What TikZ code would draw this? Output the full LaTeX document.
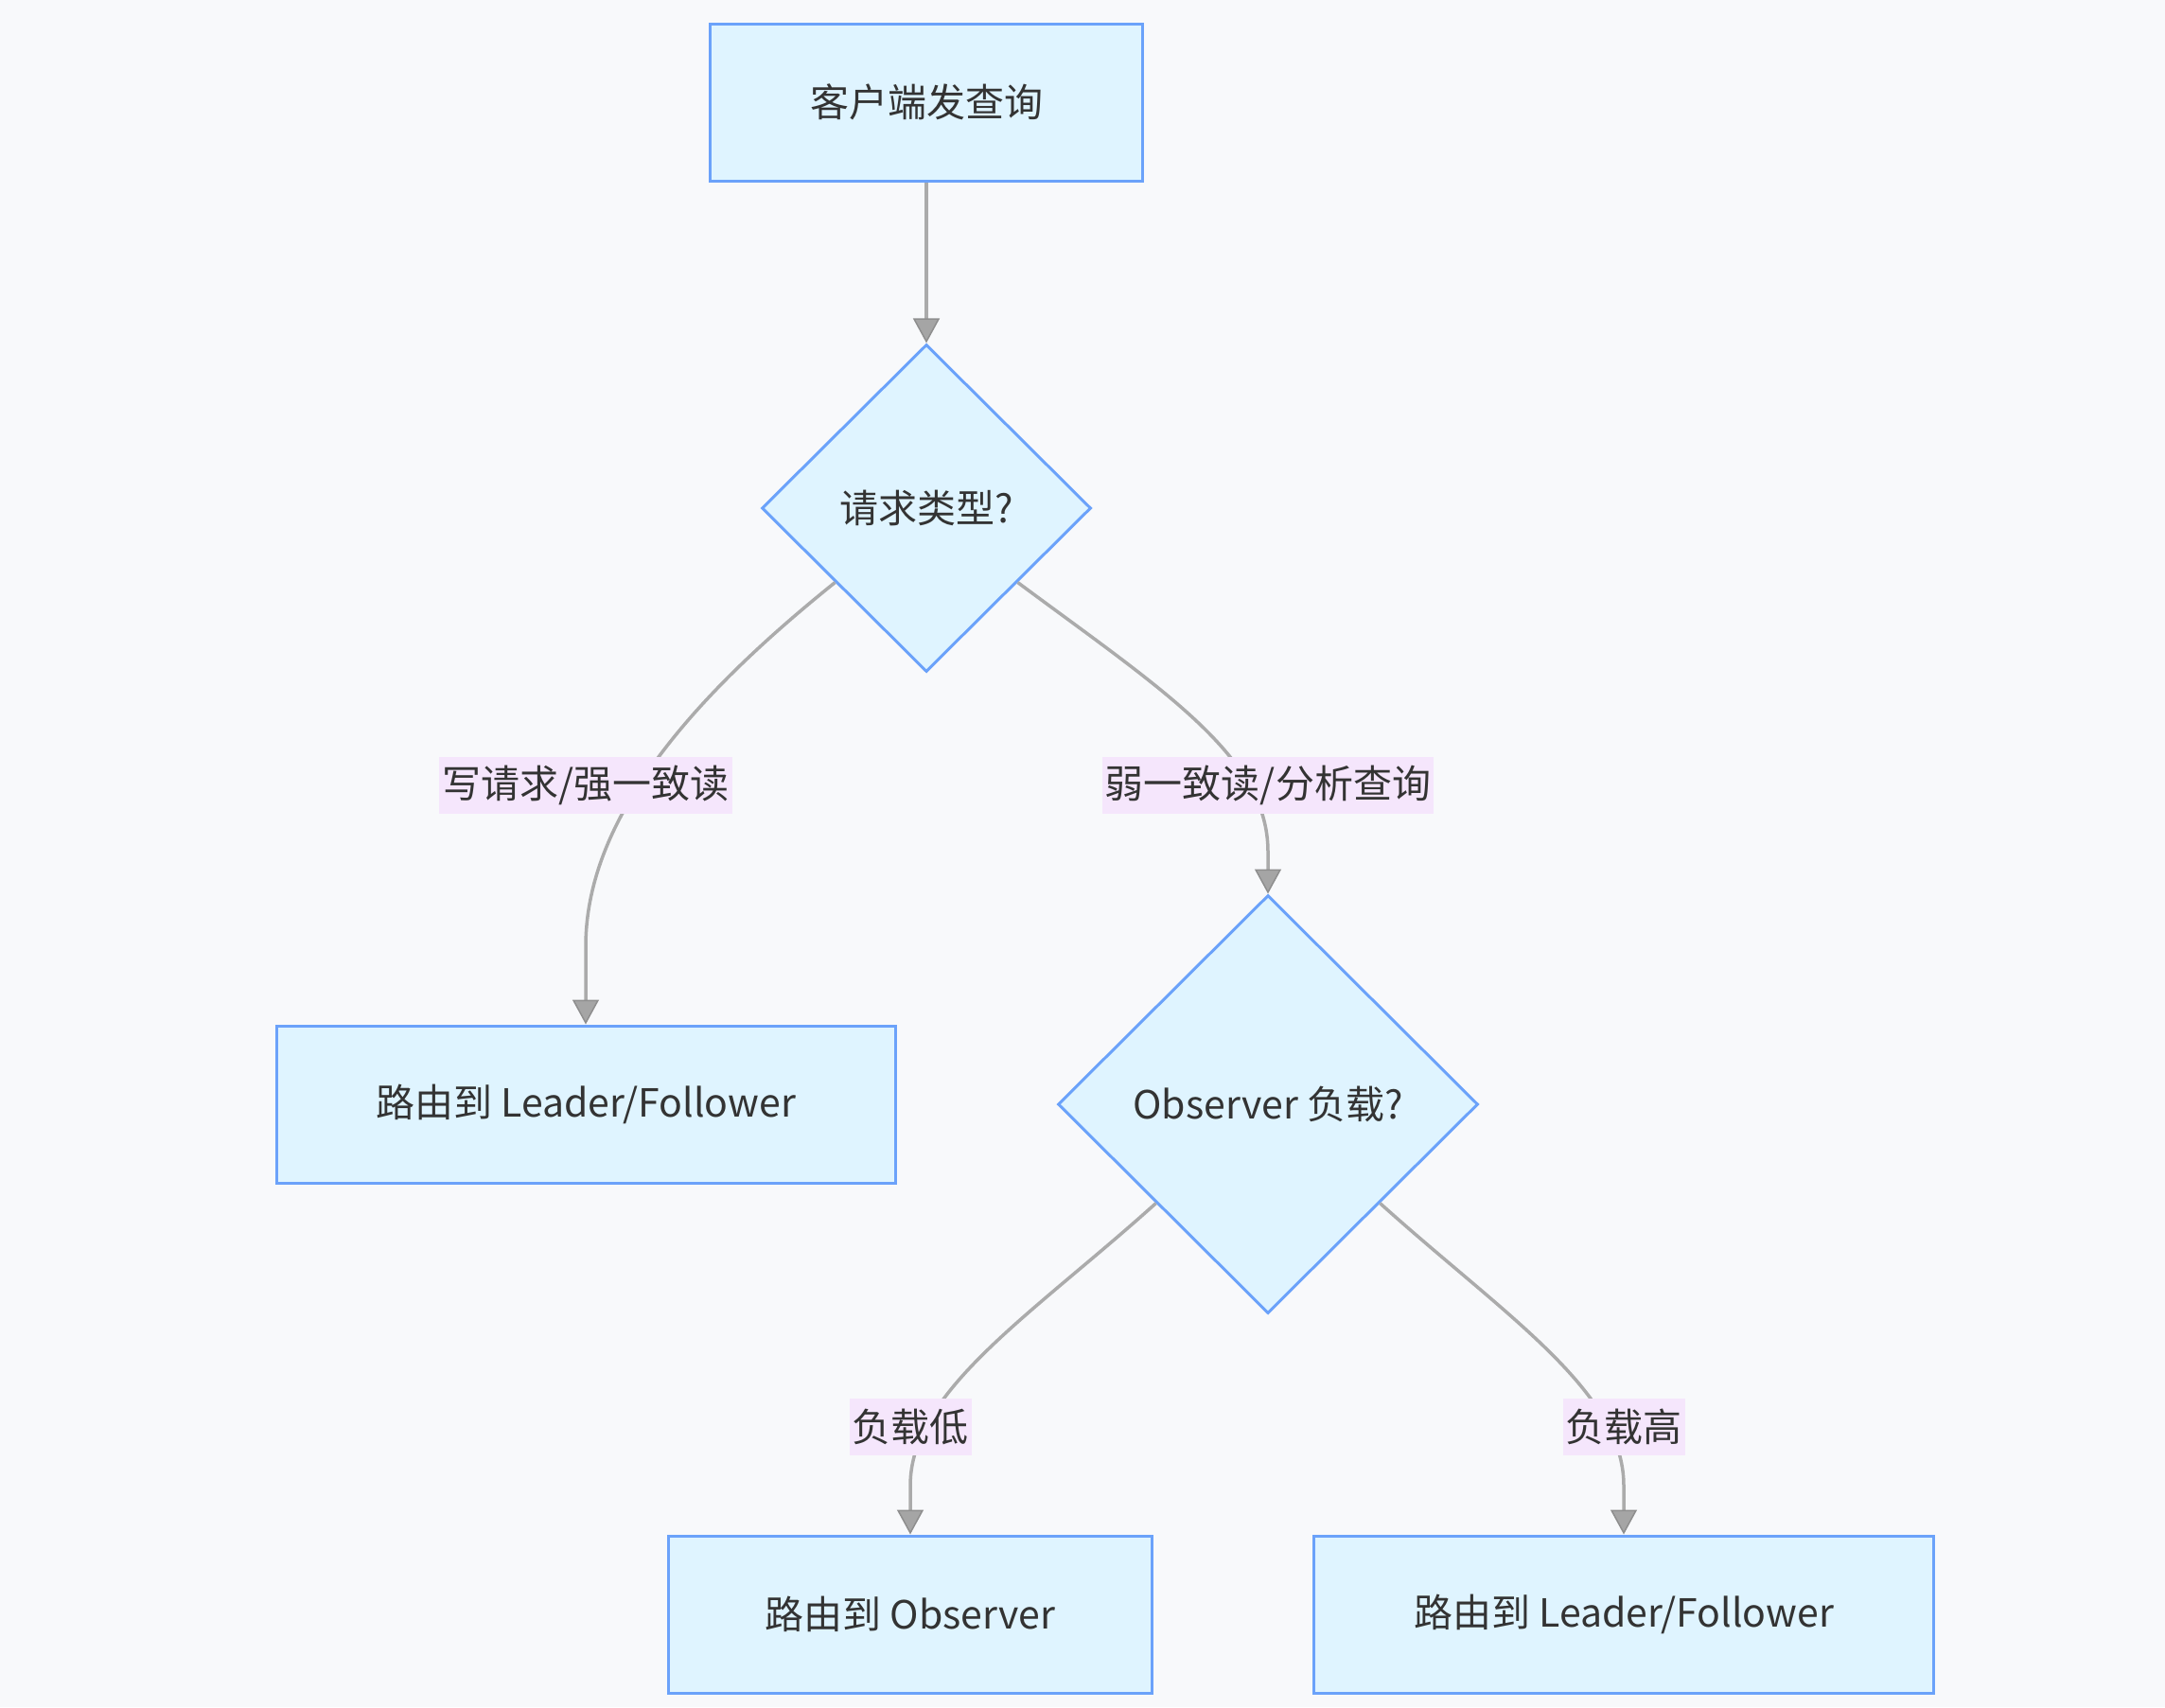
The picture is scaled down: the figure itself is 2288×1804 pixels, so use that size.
\documentclass[tikz,border=0pt]{standalone}
\usepackage{fontspec}
\setmainfont{Noto Sans CJK SC}
\usetikzlibrary{shapes.geometric,arrows.meta,calc}
\definecolor{bgcol}{HTML}{F8F9FB}
\definecolor{nodefill}{HTML}{DFF4FF}
\definecolor{nodeline}{HTML}{6BA2FA}
\definecolor{edgecol}{HTML}{ABABAB}
\definecolor{arrowfill}{HTML}{A5A5A5}
\definecolor{arrowline}{HTML}{8E8E8E}
\definecolor{labelbg}{HTML}{F5E6FC}
\definecolor{txt}{HTML}{333333}
\begin{document}
\begin{tikzpicture}[x=1pt,y=-1pt,
  nfont/.style={font=\fontsize{41}{49}\selectfont},
  box/.style={draw=nodeline,fill=nodefill,line width=3pt,minimum height=166pt,inner sep=0pt,nfont,text=txt},
  dec/.style={diamond,aspect=1,draw=nodeline,fill=nodefill,line width=3pt,inner sep=0pt,nfont,text=txt},
  lbl/.style={fill=labelbg,text=txt,nfont,inner xsep=3pt,inner ysep=0pt,minimum height=60pt},
  edge/.style={draw=edgecol,line width=3.5pt,-{Triangle[width=28pt,length=26pt,fill=arrowfill,color=arrowline,line width=1.5pt]}}
]
\fill[bgcol] (0,0) rectangle (2288,1804);
\useasboundingbox (0,0) rectangle (2288,1804);

\node[box,minimum width=457pt] (start) at (979,108) {客户端发查询};
\node[dec,minimum width=348pt,minimum height=346pt] (d1) at (979,537) {请求类型?};
\node[box,minimum width=654pt] (lf1) at (619,1167) {路由到 Leader/Follower};
\node[dec,minimum width=444pt,minimum height=442pt] (d2) at (1340,1167) {Observer 负载?};
\node[box,minimum width=511pt] (obs) at (962,1706) {路由到 Observer};
\node[box,minimum width=655pt] (lf2) at (1716,1706) {路由到 Leader/Follower};

\draw[edge] (start) -- (d1);
\draw[edge] ($(d1.west)!0.45!(d1.south)$) .. controls (740,730) and (619,860) .. (619,1000) -- (lf1.north);
\draw[edge] ($(d1.east)!0.45!(d1.south)$) .. controls (1230,730) and (1340,800) .. (1340,900) -- (d2.north);
\draw[edge] ($(d2.west)!0.47!(d2.south)$) .. controls (1090,1390) and (962,1470) .. (962,1570) -- (obs.north);
\draw[edge] ($(d2.east)!0.47!(d2.south)$) .. controls (1590,1390) and (1716,1470) .. (1716,1570) -- (lf2.north);

\node[lbl] (l1) at (619,830) {写请求/强一致读};
\node[lbl] (l2) at (1340,830) {弱一致读/分析查询};
\node[lbl] (l3) at (962,1508) {负载低};
\node[lbl] (l4) at (1716,1508) {负载高};
\end{tikzpicture}
\end{document}
